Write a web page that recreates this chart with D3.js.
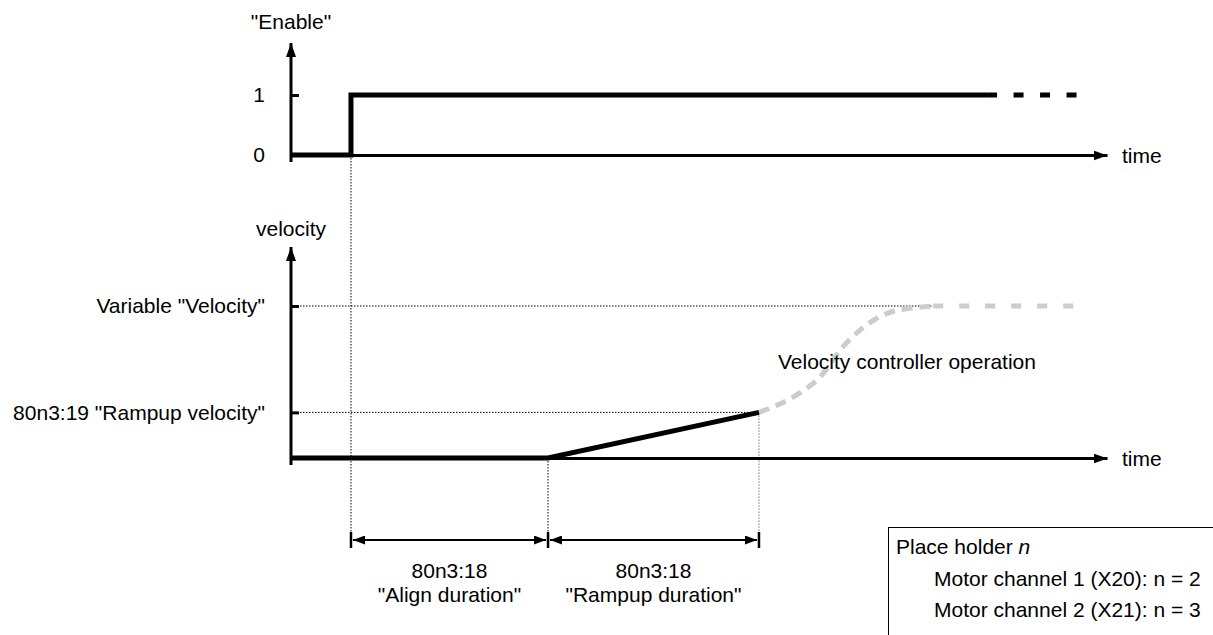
<!DOCTYPE html>
<html>
<head>
<meta charset="utf-8">
<script src="https://cdn.jsdelivr.net/npm/d3@7"></script>
<style>
  body { margin: 0; background: #fff; }
  svg { font-family: "Liberation Sans", Arial, sans-serif; font-size: 21px; }
</style>
</head>
<body>
<svg width="1213" height="635"></svg>
<script>
// signal data (time in arbitrary units 0..100)
var enableTimes = [0, 7.35, 85.3];
var enableValues = [0, 1, 1];
var enableDashTimes = [85.3, 96.3];

var velocityTimes = [0, 31.5, 57.35];
var velocityValues = [0, 0, 0.30];

var controlTimes = [57.35, 62.4, 64.8, 67.3, 69.7, 73.0, 76.7, 78.7];
var controlValues = [0.30, 0.43, 0.53, 0.71, 0.84, 0.95, 0.99, 1.0];
var holdTimes = [78.7, 96.3];

var enableTicks = [0, 1];
var enableTickLabels = ["0", "1"];
var velocityTicks = [0, 0.30, 1];
var velocityTickLabels = ["", "80n3:19 \"Rampup velocity\"", "Variable \"Velocity\""];

var durationStart = [7.35, 31.5];
var durationEnd = [31.5, 57.35];
var durationLine1 = ["80n3:18", "80n3:18"];
var durationLine2 = ["\"Align duration\"", "\"Rampup duration\""];

var boxLines = ["Motor channel 1 (X20): n = 2", "Motor channel 2 (X21): n = 3"];

var svg = d3.select("svg");

var x = d3.scaleLinear().domain([0, 100]).range([291, 1107]);
var yE = d3.scaleLinear().domain([0, 1]).range([155, 95]);
var yV = d3.scaleLinear().domain([0, 1]).range([458, 306]);

var defs = svg.append("defs");
defs.append("marker")
    .attr("id", "axisArrow")
    .attr("viewBox", "0 0 14 10")
    .attr("refX", 14).attr("refY", 5)
    .attr("markerWidth", 14).attr("markerHeight", 10)
    .attr("markerUnits", "userSpaceOnUse")
    .attr("orient", "auto")
  .append("path")
    .attr("d", "M0,0L14,5L0,10Z")
    .attr("fill", "#000");
defs.append("marker")
    .attr("id", "dimArrow")
    .attr("viewBox", "0 0 12 9")
    .attr("refX", 12).attr("refY", 4.5)
    .attr("markerWidth", 12).attr("markerHeight", 9)
    .attr("markerUnits", "userSpaceOnUse")
    .attr("orient", "auto-start-reverse")
  .append("path")
    .attr("d", "M0,0L12,4.5L0,9Z")
    .attr("fill", "#000");

// dotted guide lines
var guides = svg.append("g")
    .attr("stroke", "#000")
    .attr("stroke-width", 1)
    .attr("stroke-dasharray", "1.5,1.5");
guides.append("line")
    .attr("x1", x(enableTimes[1])).attr("x2", x(enableTimes[1]))
    .attr("y1", yE(0)).attr("y2", 534);
guides.append("line")
    .attr("x1", x(velocityTimes[1])).attr("x2", x(velocityTimes[1]))
    .attr("y1", yV(0)).attr("y2", 534);
guides.append("line")
    .attr("x1", x(velocityTimes[2])).attr("x2", x(velocityTimes[2]))
    .attr("y1", yV(velocityValues[2])).attr("y2", 534)
    .attr("stroke", "#777");
guides.append("line")
    .attr("x1", x(0)).attr("x2", x(holdTimes[0]))
    .attr("y1", yV(1)).attr("y2", yV(1));
guides.append("line")
    .attr("x1", x(0)).attr("x2", x(velocityTimes[2]))
    .attr("y1", yV(velocityValues[2])).attr("y2", yV(velocityValues[2]));

// time axes
function timeAxis(yPos) {
  var g = svg.append("g")
      .attr("transform", "translate(0," + yPos + ")")
      .call(d3.axisBottom(x).tickValues([]).tickSizeOuter(0));
  g.select(".domain")
      .attr("stroke-width", 3)
      .attr("marker-end", "url(#axisArrow)");
  svg.append("text")
      .attr("x", 1122)
      .attr("y", yPos + 8)
      .text("time");
}
timeAxis(yE(0));
timeAxis(yV(0));

// value axes
function valueAxis(scale, ticks, labels, top) {
  var g = svg.append("g")
      .attr("transform", "translate(" + x(0) + ",0)")
      .call(d3.axisLeft(scale)
        .tickValues(ticks)
        .tickSize(8)
        .tickPadding(18)
        .tickFormat(function(d, i) { return labels[i]; }));
  g.select(".domain").remove();
  g.selectAll(".tick line")
      .attr("stroke-width", 3)
      .attr("x2", function(d) { return d === 0 ? 0 : 8; });
  g.selectAll(".tick text")
      .attr("font-size", 21)
      .attr("font-family", "Liberation Sans, Arial, sans-serif")
      .attr("fill", "#000");
  svg.append("line")
      .attr("x1", x(0)).attr("x2", x(0))
      .attr("y1", scale(0) + 7).attr("y2", top)
      .attr("stroke", "#000")
      .attr("stroke-width", 3)
      .attr("marker-end", "url(#axisArrow)");
}
valueAxis(yE, enableTicks, enableTickLabels, 43);
valueAxis(yV, velocityTicks, velocityTickLabels, 247);

svg.append("text")
    .attr("x", x(0)).attr("y", 29)
    .attr("text-anchor", "middle")
    .text("\"Enable\"");
svg.append("text")
    .attr("x", x(0)).attr("y", 236)
    .attr("text-anchor", "middle")
    .text("velocity");

// enable signal
var enableLine = d3.line()
    .x(function(d) { return x(d[0]); })
    .y(function(d) { return yE(d[1]); })
    .curve(d3.curveStepAfter);
svg.append("path")
    .datum(d3.zip(enableTimes, enableValues))
    .attr("d", enableLine)
    .attr("fill", "none")
    .attr("stroke", "#000")
    .attr("stroke-width", 5);
svg.append("path")
    .datum(enableDashTimes.map(function(t) { return [t, 1]; }))
    .attr("d", d3.line().x(function(d) { return x(d[0]); }).y(function(d) { return yE(d[1]); }))
    .attr("fill", "none")
    .attr("stroke", "#000")
    .attr("stroke-width", 5)
    .attr("stroke-dasharray", "10,16.5");

// velocity signal
var velLine = d3.line()
    .x(function(d) { return x(d[0]); })
    .y(function(d) { return yV(d[1]); });
svg.append("path")
    .datum(d3.zip(controlTimes, controlValues))
    .attr("d", velLine.curve(d3.curveMonotoneX))
    .attr("fill", "none")
    .attr("stroke", "#cccccc")
    .attr("stroke-width", 5)
    .attr("stroke-dasharray", "11,7");
svg.append("path")
    .datum(holdTimes.map(function(t) { return [t, 1]; }))
    .attr("d", velLine.curve(d3.curveLinear))
    .attr("fill", "none")
    .attr("stroke", "#cccccc")
    .attr("stroke-width", 5)
    .attr("stroke-dasharray", "10,16");
svg.append("path")
    .datum(d3.zip(velocityTimes, velocityValues))
    .attr("d", velLine.curve(d3.curveLinear))
    .attr("fill", "none")
    .attr("stroke", "#000")
    .attr("stroke-width", 5);

svg.append("text")
    .attr("x", 778).attr("y", 369)
    .text("Velocity controller operation");

// duration dimensions
var dims = svg.selectAll(".dim")
    .data(d3.range(durationStart.length))
  .enter().append("g")
    .attr("class", "dim");
dims.append("line")
    .attr("x1", function(i) { return x(durationStart[i]) + 2; })
    .attr("x2", function(i) { return x(durationEnd[i]) - 2; })
    .attr("y1", 540).attr("y2", 540)
    .attr("stroke", "#000")
    .attr("stroke-width", 2)
    .attr("marker-start", "url(#dimArrow)")
    .attr("marker-end", "url(#dimArrow)");
dims.append("text")
    .attr("x", function(i) { return (x(durationStart[i]) + x(durationEnd[i])) / 2; })
    .attr("y", 578)
    .attr("text-anchor", "middle")
    .text(function(i) { return durationLine1[i]; });
dims.append("text")
    .attr("x", function(i) { return (x(durationStart[i]) + x(durationEnd[i])) / 2; })
    .attr("y", 602)
    .attr("text-anchor", "middle")
    .text(function(i) { return durationLine2[i]; });

var barTimes = d3.union(durationStart, durationEnd);
svg.selectAll(".bar")
    .data(Array.from(barTimes))
  .enter().append("line")
    .attr("class", "bar")
    .attr("x1", function(d) { return x(d); })
    .attr("x2", function(d) { return x(d); })
    .attr("y1", 532).attr("y2", 548)
    .attr("stroke", "#000")
    .attr("stroke-width", 2.5);

// place holder box
svg.append("rect")
    .attr("x", 888.5).attr("y", 527.5)
    .attr("width", 330).attr("height", 120)
    .attr("fill", "none")
    .attr("stroke", "#000")
    .attr("stroke-width", 1);
var title = svg.append("text")
    .attr("x", 896).attr("y", 554);
title.append("tspan").text("Place holder ");
title.append("tspan").attr("font-style", "italic").text("n");
svg.selectAll(".boxline")
    .data(boxLines)
  .enter().append("text")
    .attr("class", "boxline")
    .attr("x", 934)
    .attr("y", function(d, i) { return 586 + i * 31; })
    .text(function(d) { return d; });
</script>
</body>
</html>
